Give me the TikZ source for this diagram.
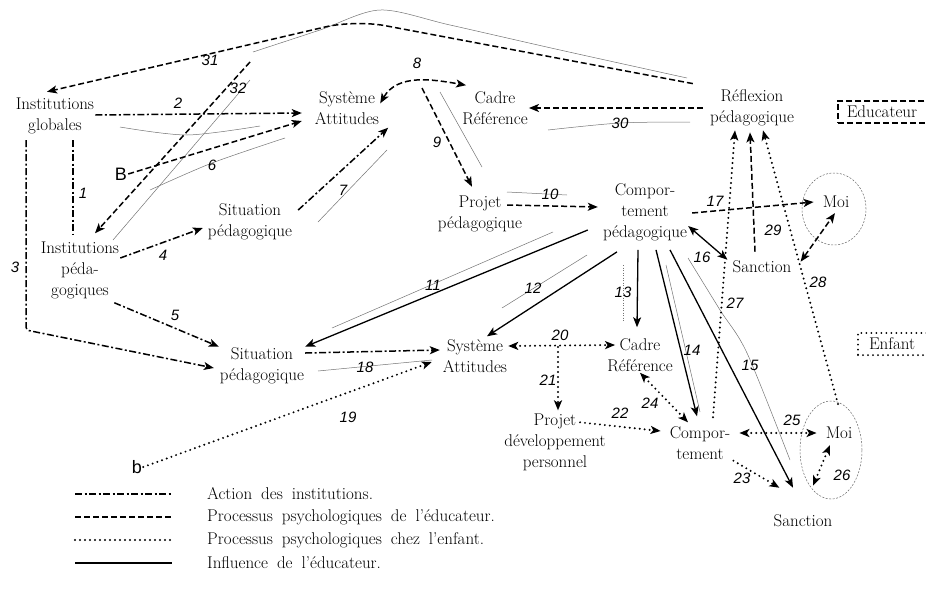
\documentclass[tikz,border=0pt]{standalone}
\usepackage{fontspec}
\newfontfamily\numfont{Liberation Sans}
\usetikzlibrary{arrows.meta}
\begin{document}
\begin{tikzpicture}[x=1pt,y=-1pt,
  lbl/.style={font=\fontsize{17}{21}\selectfont, align=center, inner sep=1pt},
  legt/.style={font=\fontsize{17}{20}\selectfont, execute at begin node={\spaceskip=9pt plus 1pt\relax}, anchor=west, inner sep=0pt},
  num/.style={font=\numfont\itshape\fontsize{15}{15}\selectfont, inner sep=0pt},
  sansl/.style={font=\numfont\fontsize{18}{18}\selectfont, inner sep=1pt},
  inst/.style={line width=1.5pt, dash pattern=on 7pt off 2.5pt on 2pt off 2.5pt},
  educ/.style={line width=1.5pt, dash pattern=on 6pt off 3pt},
  enft/.style={line width=2.2pt, dash pattern=on 0pt off 5pt, line cap=round},
  infl/.style={line width=1.3pt},
  lead/.style={line width=0.5pt, black!55},
  circ/.style={line width=0.5pt, black!60, dash pattern=on 2pt off 1.5pt},
  tip/.style={-{Stealth[length=10pt,width=8pt,inset=2.5pt]}},
  tips/.style={{Stealth[length=10pt,width=8pt,inset=2.5pt]}-{Stealth[length=10pt,width=8pt,inset=2.5pt]}},
]
\useasboundingbox (0,0) rectangle (926,592);

% ---------- nodes ----------
\node[lbl] (ig) at (55,116) {Institutions\\globales};
\node[lbl] (ip) at (80,270) {Institutions\\péda-\\gogiques};
\node[sansl] (B) at (121,174) {B};
\node[lbl] (sa1) at (347,108) {Système\\Attitudes};
\node[lbl] (cr1) at (495,108) {Cadre\\Référence};
\node[lbl] (rp) at (752,108) {Réflexion\\pédagogique};
\node[lbl, draw, educ, anchor=west, inner xsep=9pt, inner ysep=5pt] (edu) at (837,112) {Educateur\hspace{25pt}};
\node[lbl] (sp1) at (250,222) {Situation\\pédagogique};
\node[lbl] (pp1) at (480,214) {Projet\\pédagogique};
\node[lbl] (cp) at (645,212) {Compor-\\tement\\pédagogique};
\node[lbl] (moi1) at (836,202) {Moi};
\node[lbl] (san1) at (762,267) {Sanction};
\node[lbl] (sp2) at (262,366) {Situation\\pédagogique};
\node[lbl] (sa2) at (475,356) {Système\\Attitudes};
\node[lbl] (cr2) at (640,355) {Cadre\\Référence};
\node[lbl] (pdp) at (555,442) {Projet\\développement\\personnel};
\node[lbl] (cm) at (700,443) {Compor-\\tement};
\node[lbl] (moi2) at (839,433) {Moi};
\node[lbl] (san2) at (803,521) {Sanction};
\node[sansl] (b) at (137,467) {b};
\node[lbl, draw, enft, line width=2pt, anchor=west, inner xsep=11pt, inner ysep=5pt] (enf) at (857,344) {Enfant\hspace{25pt}};

% ---------- circles around Moi ----------
\draw[circ] (834,209) ellipse[x radius=32pt, y radius=36pt];
\draw[circ] (831,450) ellipse[x radius=31pt, y radius=49pt];

% ---------- free coordinates ----------
\coordinate (pk) at (355,20);
\coordinate (s32) at (250,62);
\coordinate (c3) at (26,330);
\coordinate (s9) at (422,88);
\coordinate (m20) at (558,347);

% ---------- leader lines ----------
\draw[lead] plot[smooth] coordinates {(253,52) (320,30) (380,10) (450,25) (560,50) (687,78)};
\draw[lead] (250,80) -- (113,240);
\draw[lead] plot[smooth] coordinates {(120,127) (187,135) (260,126)};
\draw[lead] plot[smooth] coordinates {(150,190) (212,163) (285,138)};
\draw[lead] (387,150) -- (318,222);
\draw[lead] (440,92) -- (482,167);
\draw[lead] plot[smooth] coordinates {(548,130) (620,123) (690,122)};
\draw[lead] (507,192) -- (567,195);
\draw[lead] (332,328) -- (553,232);
\draw[lead] (502,308) -- (587,255);
\draw[lead, dash pattern=on 1pt off 1.5pt] (623,265) -- (623,322);
\draw[lead] (666,265) -- (700,412);
\draw[lead] plot[smooth] coordinates {(688,258) (720,310) (747,353) (790,460)};
\draw[lead] (318,371) -- (432,360);

% ---------- action des institutions ----------
\draw[inst,tip] ([yshift=1pt]ig.east) -- ([xshift=-12pt,yshift=-5pt]sa1.west);
\draw[inst] ([xshift=18pt,yshift=-5pt]ig.south) -- ([xshift=-7pt,yshift=5pt]ip.north);
\draw[inst,tip,rounded corners=3pt] ([xshift=-29pt,yshift=-5pt]ig.south) -- (c3) -- ([xshift=-5pt,yshift=-2pt]sp2.west);
\draw[inst,tip] ([yshift=12pt]ip.east) -- ([xshift=-4pt,yshift=-6pt]sp1.west);
\draw[inst,tip] ([xshift=-6pt,yshift=-3pt]ip.south east) -- (sp2.north west);
\draw[inst,tip] ([xshift=5pt,yshift=12pt]sp1.east) -- ([xshift=8pt,yshift=-2pt]sa1.south east);
\draw[inst,tip] ([yshift=13pt]sp2.east) -- ([xshift=-2pt,yshift=6pt]sa2.west);

% ---------- processus de l'educateur ----------
\draw[educ,tip,rounded corners=30pt] ([xshift=-16pt,yshift=5pt]rp.north west) -- (pk) -- ([xshift=-8pt,yshift=5pt]ig.north);
\draw[educ,tip] (s32) -- ([xshift=15pt,yshift=7pt]ip.north);
\draw[educ,tip] (B.east) -- ([xshift=-12pt,yshift=-13pt]sa1.west);
\draw[educ,tips] (sa1.8) to[out=60,in=170] ([xshift=5pt,yshift=5pt]cr1.north west);
\draw[educ,tip] (s9) -- ([xshift=-8pt,yshift=8pt]pp1.north);
\draw[educ,tip] ([xshift=-6pt]rp.west) -- (cr1.east);
\draw[educ,tip] ([xshift=-16pt,yshift=9pt]pp1.east) -- ([xshift=-4pt,yshift=5pt]cp.west);
\draw[educ,tip] ([xshift=4pt,yshift=-1pt]cp.east) -- ([xshift=-8pt]moi1.west);
\draw[educ,tip] ([xshift=-7pt,yshift=8pt]san1.north) -- ([xshift=-2pt,yshift=-5pt]rp.south);
\draw[educ,tips] ([xshift=8pt,yshift=-2pt]san1.north east) -- ([xshift=-1pt,yshift=-4pt]moi1.south);

% ---------- influence de l'educateur ----------
\draw[infl,tip] ([xshift=-14pt,yshift=-18pt]cp.west) -- (sp2.north east);
\draw[infl,tip] ([xshift=-28pt,yshift=-10pt]cp.south) -- ([xshift=12pt,yshift=2pt]sa2.north);
\draw[infl,tip] ([xshift=-7pt,yshift=-8pt]cp.south) -- ([xshift=-3pt,yshift=10pt]cr2.north);
\draw[infl,tip] ([xshift=11pt,yshift=-8pt]cp.south) -- ([xshift=-3pt,yshift=9pt]cm.north);
\draw[infl,tip] ([xshift=25pt,yshift=-8pt]cp.south) -- ([xshift=-10pt,yshift=26pt]san2.north);
\draw[infl,tips] ([yshift=-14pt]cp.east) -- ([xshift=-4pt]san1.north west);

% ---------- processus chez l'enfant ----------
\draw[enft,tip] ([xshift=13pt,yshift=8pt]cm.north) -- ([xshift=-17pt,yshift=-3pt]rp.south);
\draw[enft,tip] ([xshift=-1pt,yshift=22pt]moi2.north) -- ([xshift=11pt,yshift=-3pt]rp.south);
\draw[enft,tips] ([yshift=10pt]sa2.east) -- ([xshift=9pt,yshift=10pt]cr2.west);
\draw[enft,tip] (m20) -- ([xshift=3pt,yshift=2pt]pdp.north);
\draw[enft,tip] ([xshift=25pt,yshift=-10pt]pdp.north) -- ([xshift=-8pt,yshift=12pt]cm.west);
\draw[enft,tips] ([xshift=-12pt,yshift=3pt]cm.north) -- (cr2.south);
\draw[enft,tips] ([xshift=8pt,yshift=10pt]cm.east) -- ([xshift=-8pt]moi2.west);
\draw[enft,tip] ([xshift=2pt]cm.south east) -- ([xshift=7pt,yshift=26pt]san2.north west);
\draw[enft,tips] ([xshift=10pt,yshift=28pt]san2.north) -- ([xshift=-9pt,yshift=-5pt]moi2.south);
\draw[enft,tip] (b.east) -- ([xshift=-10pt,yshift=-6pt]sa2.west);

% ---------- numbers ----------
\node[num] (n31) at (210,60) {31};
\node[num] (n32) at (238,88) {32};
\node[num] (n2) at (178,103) {2};
\node[num] (n6) at (212,165) {6};
\node[num] (n1) at (83,193) {1};
\node[num] (n3) at (15,267) {3};
\node[num] (n4) at (163,255) {4};
\node[num] (n5) at (175,315) {5};
\node[num] (n7) at (343,190) {7};
\node[num] (n8) at (417,63) {8};
\node[num] (n9) at (437,142) {9};
\node[num] (n30) at (620,123) {30};
\node[num] (n10) at (550,194) {10};
\node[num] (n11) at (433,285) {11};
\node[num] (n12) at (533,288) {12};
\node[num] (n13) at (623,292) {13};
\node[num] (n14) at (692,350) {14};
\node[num] (n15) at (750,365) {15};
\node[num] (n16) at (702,257) {16};
\node[num] (n17) at (715,201) {17};
\node[num] (n29) at (773,230) {29};
\node[num] (n27) at (735,303) {27};
\node[num] (n28) at (818,282) {28};
\node[num] (n18) at (365,367) {18};
\node[num] (n19) at (348,417) {19};
\node[num] (n20) at (560,335) {20};
\node[num] (n21) at (548,380) {21};
\node[num] (n22) at (620,413) {22};
\node[num] (n24) at (650,403) {24};
\node[num] (n25) at (792,420) {25};
\node[num] (n23) at (742,478) {23};
\node[num] (n26) at (842,475) {26};

% ---------- legend ----------
\node[legt] (l1) at (207,494) {Action des institutions.};
\node[legt] (l2) at (207,517) {Processus psychologiques de l'éducateur.};
\node[legt] (l3) at (207,540) {Processus psychologiques chez l'enfant.};
\node[legt] (l4) at (207,563) {Influence de l'éducateur.};
\draw[inst] ([xshift=-132pt]l1.west) -- ([xshift=-35pt]l1.west);
\draw[educ] ([xshift=-132pt]l2.west) -- ([xshift=-35pt]l2.west);
\draw[enft] ([xshift=-132pt]l3.west) -- ([xshift=-35pt]l3.west);
\draw[infl] ([xshift=-132pt]l4.west) -- ([xshift=-35pt]l4.west);
\end{tikzpicture}
\end{document}
